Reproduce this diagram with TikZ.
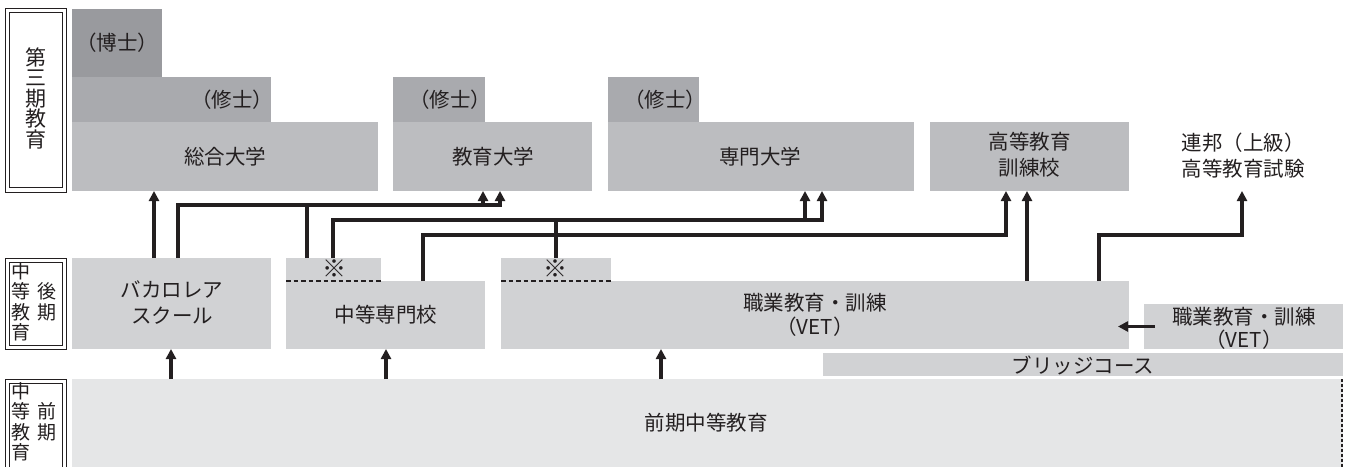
\documentclass[tikz,border=0pt]{standalone}
\usepackage{fontspec}
\setmainfont{Noto Sans CJK JP}
\usetikzlibrary{arrows.meta}
\definecolor{ink}{HTML}{231F20}
\definecolor{cdr}{HTML}{999A9E}
\definecolor{cms}{HTML}{A9AAAE}
\definecolor{cter}{HTML}{BCBDC0}
\definecolor{csec}{HTML}{D1D2D4}
\definecolor{clow}{HTML}{E5E6E7}
\begin{document}
\begin{tikzpicture}[x=1pt,y=-1pt,
  box/.style={rectangle, draw=none, inner sep=0pt, outer sep=0pt, anchor=north west},
  labbox/.style={rectangle, inner sep=0pt, outer sep=0pt, anchor=north west, draw=ink, line width=1pt},
  txt/.style={inner sep=0pt, text=ink, font=\fontsize{20.5}{26}\selectfont, align=center},
  labtxt/.style={inner sep=0pt, text=ink, font=\fontsize{19}{20.5}\selectfont, align=center},
  marktxt/.style={inner sep=0pt, text=ink, font=\fontsize{24}{24}\selectfont},
  conn/.style={draw=ink, line width=3.2pt, -{Triangle[width=10pt,length=10pt]}},
  dashline/.style={draw=ink, line width=2pt, dash pattern=on 4.5pt off 3pt},
  dotline/.style={draw=ink, line width=2pt, dash pattern=on 3pt off 2pt}]
\useasboundingbox (0,0) rectangle (1349,466);
\clip (0,0) rectangle (1349,466);

% label boxes
\node[labbox, minimum width=61pt, minimum height=184pt] (lab1o) at (5,8) {};
\node[labbox, minimum width=53pt, minimum height=175pt] (lab1i) at (9,12.5) {};
\node[labbox, minimum width=61pt, minimum height=91pt] (lab2o) at (5,258) {};
\node[labbox, minimum width=53pt, minimum height=83pt] (lab2i) at (9,262) {};
\node[labbox, minimum width=61pt, minimum height=110pt] (lab3o) at (5,379) {};
\node[labbox, minimum width=53pt, minimum height=110pt] (lab3i) at (9,383) {};
\node[inner sep=0pt, text=ink, font=\fontsize{21}{20.5}\selectfont, align=center] (lab1t) at (35.5,98) {第\\三\\期\\教\\育};
\node[labtxt] (lab2a) at (21,302) {中\\等\\教\\育};
\node[labtxt] (lab2b) at (46.5,302) {後\\期};
\node[labtxt] (lab3a) at (21,422) {中\\等\\教\\育};
\node[labtxt] (lab3b) at (46.5,422) {前\\期};

% tertiary
\node[box, fill=cdr, minimum width=90pt, minimum height=68pt] (dr) at (72,9) {};
\node[box, fill=cms, minimum width=199pt, minimum height=45pt] (ms1) at (72,77) {};
\node[box, fill=cter, minimum width=306pt, minimum height=69pt] (uni) at (72,122) {};
\node[box, fill=cms, minimum width=92pt, minimum height=45pt] (ms2) at (393,77) {};
\node[box, fill=cter, minimum width=199pt, minimum height=69pt] (edu) at (393,122) {};
\node[box, fill=cms, minimum width=91pt, minimum height=45pt] (ms3) at (608,77) {};
\node[box, fill=cter, minimum width=306pt, minimum height=69pt] (fh) at (608,122) {};
\node[box, fill=cter, minimum width=199pt, minimum height=69pt] (hbl) at (930,122) {};
\node[box, minimum width=199pt, minimum height=69pt] (exam) at (1143,122) {};

% secondary
\node[box, fill=csec, minimum width=199pt, minimum height=91pt] (bac) at (72,258) {};
\node[box, fill=csec, minimum width=95pt, minimum height=23pt] (mk1) at (286,258) {};
\node[box, fill=csec, minimum width=199pt, minimum height=68pt] (ss) at (286,281) {};
\node[box, fill=csec, minimum width=110pt, minimum height=23pt] (mk2) at (501,258) {};
\node[box, fill=csec, minimum width=628pt, minimum height=68pt] (vet) at (501,281) {};
\node[box, fill=csec, minimum width=199pt, minimum height=45pt] (vet2) at (1144,304) {};
\node[box, fill=csec, minimum width=520pt, minimum height=23pt] (bridge) at (823,353) {};
\node[box, fill=clow, minimum width=1271pt, minimum height=90pt] (low) at (72,379) {};

\draw[dashline] (mk1.south west) -- (mk1.south east);
\draw[dashline] (mk2.south west) -- (mk2.south east);
\draw[dotline] ([xshift=-1pt]low.north east) -- ([xshift=-1pt]low.south east);

% texts
\node[txt] (tdr) at (117,43) {（博士）};
\node[txt] (tms1) at (232,100) {（修士）};
\node[txt] (tms2) at (450,100) {（修士）};
\node[txt] (tms3) at (665,100) {（修士）};
\node[txt] (tuni) at (225,157) {総合大学};
\node[txt] (tedu) at (493,157) {教育大学};
\node[txt] (tfh) at (760,157) {専門大学};
\node[txt] (thbl) at (1029.5,155) {高等教育\\訓練校};
\node[txt] (texam) at (1243,156) {連邦（上級）\\高等教育試験};
\node[txt] (tbac) at (172,303) {バカロレア\\スクール};
\node[marktxt] (tmk1) at (334,269) {※};
\node[marktxt] (tmk2) at (555,269) {※};
\node[txt] (tss) at (386,315) {中等専門校};
\node[txt, font=\fontsize{20.5}{24}\selectfont] (tvet) at (815,315) {職業教育・訓練\\（VET）};
\node[txt, font=\fontsize{20.5}{23}\selectfont] (tvet2) at (1244,328) {職業教育・訓練\\（VET）};
\node[txt] (tbridge) at (1083,365) {ブリッジコース};
\node[txt] (tlow) at (706,423) {前期中等教育};

% connectors
\draw[conn] (bac.north -| 154,0) -- (uni.south -| 154,0);
\draw[conn] (bac.north -| 178,0) -- (178,205) -- (483,205) -- (edu.south -| 483,0);
\draw[conn] (mk1.north -| 307,0) -- (307,205) -- (500,205) -- (edu.south -| 500,0);
\draw[conn] (mk1.north -| 333,0) -- (333,220) -- (805,220) -- (fh.south -| 805,0);
\draw[conn] (mk2.north -| 556,0) -- (556,220) -- (822,220) -- (fh.south -| 822,0);
\draw[conn] (ss.north -| 423,0) -- (423,235) -- (1006,235) -- (hbl.south -| 1006,0);
\draw[conn] (vet.north -| 1027,0) -- (hbl.south -| 1027,0);
\draw[conn] (vet.north -| 1099,0) -- (1099,235) -- (1242,235) -- (exam.south -| 1242,0);
\draw[conn] ([xshift=11pt]vet2.west) -- ([xshift=-26pt]vet2.west);
\draw[conn] (low.north -| 171,0) -- (bac.south -| 171,0);
\draw[conn] (low.north -| 386,0) -- (ss.south -| 386,0);
\draw[conn] (low.north -| 661,0) -- (vet.south -| 661,0);
\end{tikzpicture}
\end{document}
